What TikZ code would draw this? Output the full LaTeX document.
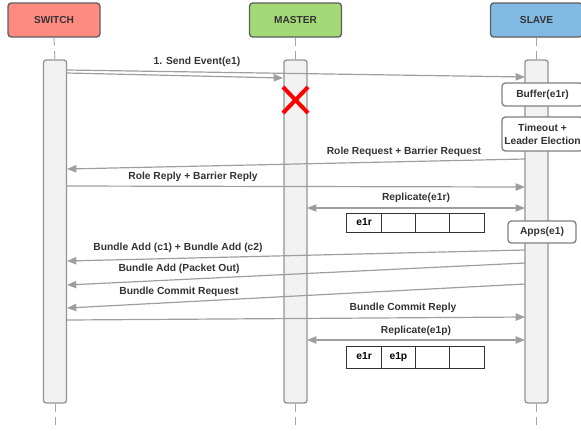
\documentclass[tikz,border=0pt]{standalone}
\usepackage{fontspec}
\setmainfont{Liberation Sans}
\usetikzlibrary{arrows.meta}

\definecolor{swfill}{RGB}{255,139,128}
\definecolor{msfill}{RGB}{164,217,120}
\definecolor{slfill}{RGB}{131,186,228}
\definecolor{edgec}{RGB}{94,94,94}
\definecolor{msgc}{RGB}{158,158,158}
\definecolor{barc}{RGB}{242,242,242}
\definecolor{ink}{RGB}{51,51,51}

\tikzset{every picture/.style={line width=0.75pt}}
\tikzset{
  hdr/.style={draw=edgec, rounded corners=2.5pt, line width=1pt, minimum width=69pt, minimum height=25.5pt, text=ink, font=\fontsize{7.6}{9}\selectfont\bfseries},
  lifebar/.style={draw=gray!85, fill=barc, rounded corners=2pt, line width=1pt, minimum width=17.25pt, minimum height=257.25pt, inner sep=0pt},
  lifeline/.style={draw=gray!70, dash pattern=on 6pt off 4pt},
  msg/.style={draw=msgc, line width=0.9pt, -{Triangle[length=7pt,width=5.5pt]}},
  dmsg/.style={msg, {Triangle[length=7pt,width=5.5pt]}-{Triangle[length=7pt,width=5.5pt]}},
  lbl/.style={inner sep=0.75pt, text=ink, font=\fontsize{7.7}{9}\selectfont\bfseries},
  notebox/.style={draw=gray, fill=white, rounded corners=2.5pt, line width=1pt, text=ink, align=center, inner sep=0pt, font=\fontsize{7.7}{9.75}\selectfont\bfseries},
  cell/.style={draw=ink, fill=white, line width=0.75pt, minimum width=25.7pt, inner sep=0pt, text height=5.6pt, text depth=1.6pt, text=black, font=\fontsize{7.7}{9}\selectfont\bfseries},
}

\begin{document}
\begin{tikzpicture}[x=0.75pt,y=0.75pt,yscale=-1,xscale=1]
\path[use as bounding box] (0,0) rectangle (581,430);

% Headers
\node[hdr, fill=swfill] (switch) at (54,20) {SWITCH};
\node[hdr, fill=msfill] (master) at (295.5,20) {MASTER};
\node[hdr, fill=slfill] (slave) at (536.5,20) {SLAVE};

% Activation bars
\node[lifebar] (swbar) at (55,231.5) {};
\node[lifebar] (msbar) at (295.5,231.5) {};
\node[lifebar] (slbar) at (536.5,231.5) {};

% Lifelines
\draw[lifeline] (switch.south) -- (swbar.north);
\draw[lifeline] (master.south) -- (msbar.north);
\draw[lifeline] (slave.south) -- (slbar.north);
\coordinate (swend) at (55,430);
\coordinate (msend) at (295.5,430);
\coordinate (slend) at (536.5,430);
\draw[lifeline] (swbar.south) -- (swend);
\draw[lifeline] (msbar.south) -- (msend);
\draw[lifeline] (slbar.south) -- (slend);

% Message end points
\coordinate (sw-a) at (67,70);   \coordinate (sl-a) at (525,77);
\coordinate (sw-b) at (67,73);   \coordinate (ms-b) at (283,78);
\coordinate (sl-c) at (525,159); \coordinate (sw-c) at (67,169);
\coordinate (sw-d) at (67,186);  \coordinate (sl-d) at (525,187);
\coordinate (ms-e) at (307,208); \coordinate (sl-e) at (525,208);
\coordinate (sl-f) at (525,250); \coordinate (sw-f) at (67,261);
\coordinate (sl-g) at (525,263); \coordinate (sw-g) at (67,285);
\coordinate (sl-h) at (525,284); \coordinate (sw-h) at (67,308);
\coordinate (sw-i) at (67,320);  \coordinate (sl-i) at (525,317);
\coordinate (ms-j) at (307,340); \coordinate (sl-j) at (525,340);

%Straight Lines
\draw[msg] (sw-a) -- (sl-a);
\draw[msg] (sw-b) -- (ms-b);
\draw[msg] (sl-c) -- (sw-c);
\draw[msg] (sw-d) -- (sl-d);
\draw[dmsg] (ms-e) -- (sl-e);
\draw[msg] (sl-f) -- (sw-f);
\draw[msg] (sl-g) -- (sw-g);
\draw[msg] (sl-h) -- (sw-h);
\draw[msg] (sw-i) -- (sl-i);
\draw[dmsg] (ms-j) -- (sl-j);

% Text Node
\node[lbl] (t-send) at (197,62) {1. Send Event(e1)};
\node[lbl] (t-rreq) at (404,152) {Role Request + Barrier Request};
\node[lbl] (t-rrep) at (193,177) {Role Reply + Barrier Reply};
\node[lbl] (t-rep1) at (416,198) {Replicate(e1r)};
\node[lbl] (t-badd) at (178,248) {Bundle Add (c1) + Bundle Add (c2)};
\node[lbl] (t-bpkt) at (179,269) {Bundle Add (Packet Out)};
\node[lbl] (t-creq) at (179,292) {Bundle Commit Request};
\node[lbl] (t-crep) at (403,308) {Bundle Commit Reply};
\node[lbl] (t-rep2) at (416,331) {Replicate(e1p)};

% Slave notes
\node[notebox, minimum width=60.75pt, minimum height=17.25pt] (buffer) at (542.5,94.5) {Buffer(e1r)};
\node[notebox, minimum width=60.75pt, minimum height=25.5pt] (timeout) at (542.5,134) {Timeout +\\Leader Election};
\node[notebox, minimum width=51pt, minimum height=16.5pt] (apps) at (542,232) {Apps(e1)};

% Log cells
\node[cell, minimum height=14.25pt] (ra1) at (364.1,222.5) {e1r};
\node[cell, minimum height=14.25pt] (ra2) at (398.4,222.5) {};
\node[cell, minimum height=14.25pt] (ra3) at (432.6,222.5) {};
\node[cell, minimum height=14.25pt] (ra4) at (466.9,222.5) {};
\node[cell, minimum height=16.5pt] (rb1) at (364.1,357) {e1r};
\node[cell, minimum height=16.5pt] (rb2) at (398.4,357) {e1p};
\node[cell, minimum height=16.5pt] (rb3) at (432.6,357) {};
\node[cell, minimum height=16.5pt] (rb4) at (466.9,357) {};

% Master failure
\draw[red, line width=3pt] (283,87) -- (308,113);
\draw[red, line width=3pt] (283,113) -- (308,87);

\end{tikzpicture}
\end{document}
